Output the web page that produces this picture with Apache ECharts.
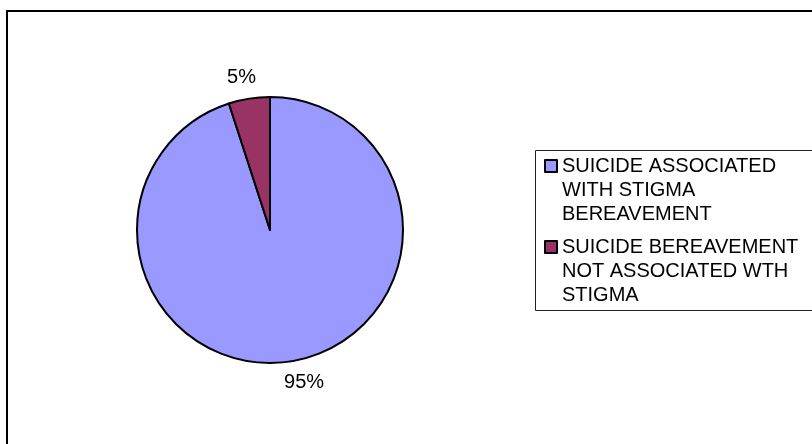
<!DOCTYPE html>
<html><head><meta charset="utf-8">
<script src="https://cdn.jsdelivr.net/npm/echarts@6/dist/echarts.min.js"></script>
<style>html,body{margin:0;padding:0;background:#fff}#c{width:812px;height:444px}</style>
</head><body><div id="c"></div>
<script>
const categories = ['SUICIDE ASSOCIATED WITH STIGMA BEREAVEMENT', 'SUICIDE BEREAVEMENT NOT ASSOCIATED WTH STIGMA'];
const legendLines = [['SUICIDE ASSOCIATED', 'WITH STIGMA', 'BEREAVEMENT'], ['SUICIDE BEREAVEMENT', 'NOT ASSOCIATED WTH', 'STIGMA']];
const values = [95, 5];
const colors = ['#9999FF', '#993366'];

const chart = echarts.init(document.getElementById('c'), null, {renderer: 'canvas'});
const FONT = 'Liberation Sans, Arial, sans-serif';
const LH = 24;
chart.setOption({
  animation: false,
  backgroundColor: '#fff',
  color: colors,
  graphic: [
    {type: 'rect', shape: {x: 7, y: 11, width: 900, height: 500}, style: {fill: 'none', stroke: '#000', lineWidth: 2}, silent: true},
    {type: 'rect', shape: {x: 535.5, y: 150.5, width: 400, height: 160}, style: {fill: 'none', stroke: '#222', lineWidth: 1}, silent: true}
  ],
  legend: {
    orient: 'vertical',
    left: 544,
    top: 106,
    padding: 0,
    itemGap: -39,
    itemWidth: 12,
    itemHeight: 12,
    icon: 'rect',
    itemStyle: {borderColor: '#000', borderWidth: 2},
    data: categories,
    formatter: function (name) { return '\n\n' + legendLines[categories.indexOf(name)].join('\n'); },
    textStyle: {fontFamily: FONT, fontSize: 20, color: '#000', lineHeight: LH}
  },
  series: [{
    type: 'pie',
    center: [270, 230],
    radius: 133,
    startAngle: 90,
    clockwise: true,
    data: categories.map((n, i) => ({name: n, value: values[i]})),
    itemStyle: {borderColor: '#000', borderWidth: 2},
    label: {show: true, position: 'outside', formatter: '{c}%', fontFamily: FONT, fontSize: 20, color: '#000', distanceToLabelLine: -10},
    labelLine: {show: false, length: 21, length2: 0},
    emphasis: {disabled: true}
  }]
});
</script></body></html>
